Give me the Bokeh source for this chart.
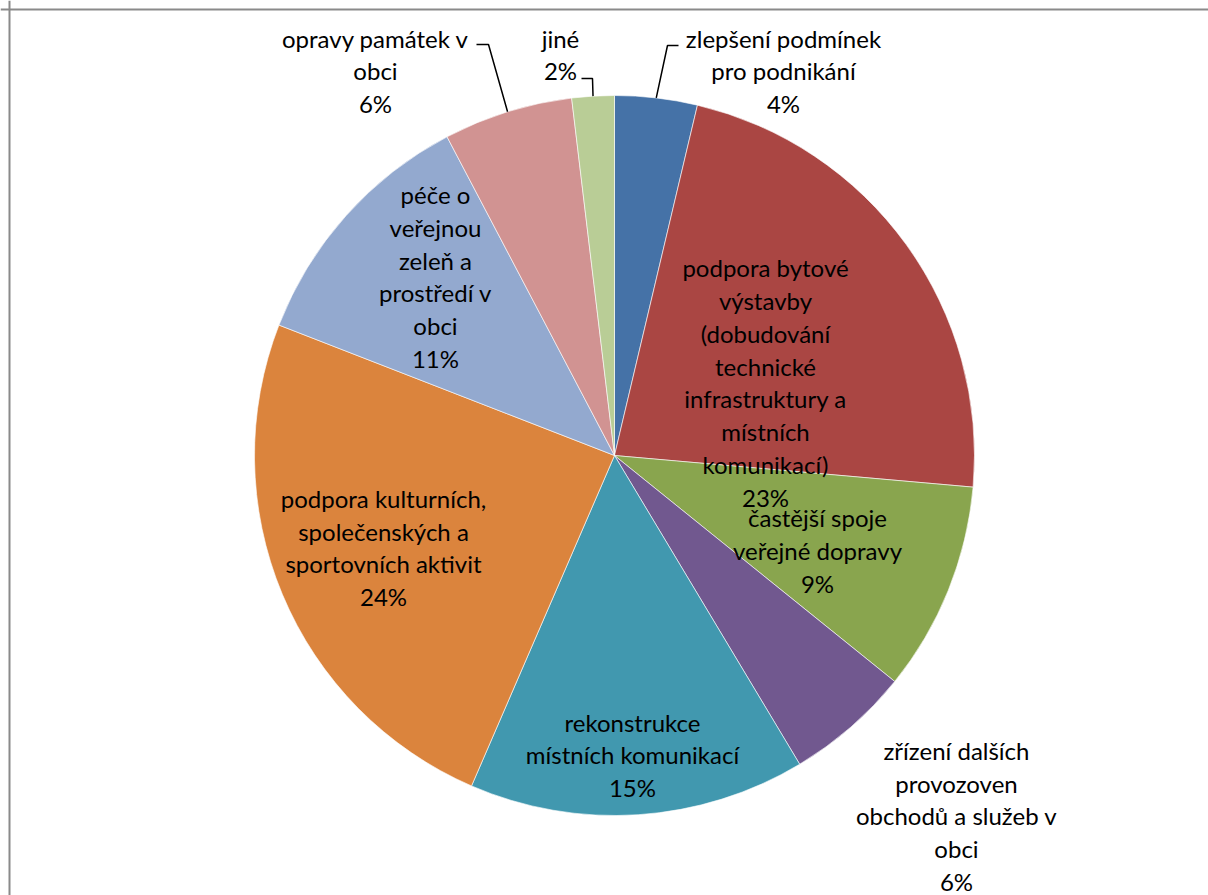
import math
from bokeh.plotting import figure
from bokeh.models import Range1d, Span, ColumnDataSource
from bokeh.core.properties import value
from bokeh.embed import file_html
from bokeh.resources import INLINE

# ---- data ----
categories = [
    "zlepšení podmínek pro podnikání",
    "podpora bytové výstavby (dobudování technické infrastruktury a místních komunikací)",
    "častější spoje veřejné dopravy",
    "zřízení dalších provozoven obchodů a služeb v obci",
    "rekonstrukce místních komunikací",
    "podpora kulturních, společenských a sportovních aktivit",
    "péče o veřejnou zeleň a prostředí v obci",
    "opravy památek v obci",
    "jiné",
]
label_text = [
    "zlepšení podmínek\npro podnikání",
    "podpora bytové\nvýstavby\n(dobudování\ntechnické\ninfrastruktury a\nmístních\nkomunikací)",
    "častější spoje\nveřejné dopravy",
    "zřízení dalších\nprovozoven\nobchodů a služeb v\nobci",
    "rekonstrukce\nmístních komunikací",
    "podpora kulturních,\nspolečenských a\nsportovních aktivit",
    "péče o\nveřejnou\nzeleň a\nprostředí v\nobci",
    "opravy památek v\nobci",
    "jiné",
]
values = [3.7, 22.7, 9.4, 5.6, 15.1, 24.4, 11.4, 5.8, 1.9]

# ---- styles / layout ----
colors = ["#4572A7", "#AA4643", "#89A54E", "#71588F", "#4198AF",
          "#DB843D", "#93A9CF", "#D19392", "#B9CD96"]
CX, CY, R = 614, 455, 360  # pie centre / radius in canvas pixels
# label block centres, offset from pie centre (px, y down)
label_offsets = [(169, -384.5), (151, -73), (203, 95), (342, 360.5), (18, 299.5),
                 (-231, 92), (-179, -179), (-239, -384.5), (-54, -401)]
# leader lines for outside labels: (index, start point offset, elbow offset)
leaders = [(0, (64, -410), (53, -410)),
           (7, (-138, -411), (-126, -411)),
           (8, (-33, -377), (-22, -377))]

W, H = 1208, 895
p = figure(width=W, height=H, output_backend="svg", toolbar_location=None,
           x_range=Range1d(0, W), y_range=Range1d(-H, 0),
           min_border=0, background_fill_color="white", border_fill_color="white")
p.axis.visible = False
p.grid.visible = False
p.outline_line_color = None

total = sum(values)
fr = [v / total for v in values]
cum = [0.0]
for f in fr:
    cum.append(cum[-1] + f)
start = [math.pi / 2 - 2 * math.pi * c for c in cum[:-1]]
end = [math.pi / 2 - 2 * math.pi * c for c in cum[1:]]
mid = [(c0 + c1) / 2 for c0, c1 in zip(cum[:-1], cum[1:])]

src = ColumnDataSource(dict(x=[CX] * len(values), y=[-CY] * len(values),
                            start=start, end=end, color=colors))
p.wedge(x="x", y="y", radius=R, radius_units="screen", start_angle="start",
        end_angle="end", direction="clock", fill_color="color",
        line_color="white", line_width=0.6, source=src)

pct = [f"{round(f * 100)}%" for f in fr]
texts = [f"{t}\n{q}" for t, q in zip(label_text, pct)]
lsrc = ColumnDataSource(dict(x=[CX + o[0] for o in label_offsets],
                             y=[-(CY + o[1]) for o in label_offsets], t=texts))
p.text(x="x", y="y", text="t", source=lsrc, text_font=value("Lato"),
       text_font_size="24px", text_align="center", text_baseline="middle",
       text_line_height=1.13, text_color="black")

xs, ys = [], []
for i, s, e in leaders:
    ang = 2 * math.pi * mid[i]
    ex = CX + R * math.sin(ang)
    ey = CY - R * math.cos(ang)
    xs.append([CX + s[0], CX + e[0], ex])
    ys.append([-(CY + s[1]), -(CY + e[1]), -ey])
p.multi_line(xs=xs, ys=ys, line_color="black", line_width=1.5)

p.add_layout(Span(location=9, dimension="height", line_color="#8a8a8a", line_width=2))
p.add_layout(Span(location=-9, dimension="width", line_color="#8a8a8a", line_width=2))

open("out.html", "w").write(file_html(p, INLINE))
